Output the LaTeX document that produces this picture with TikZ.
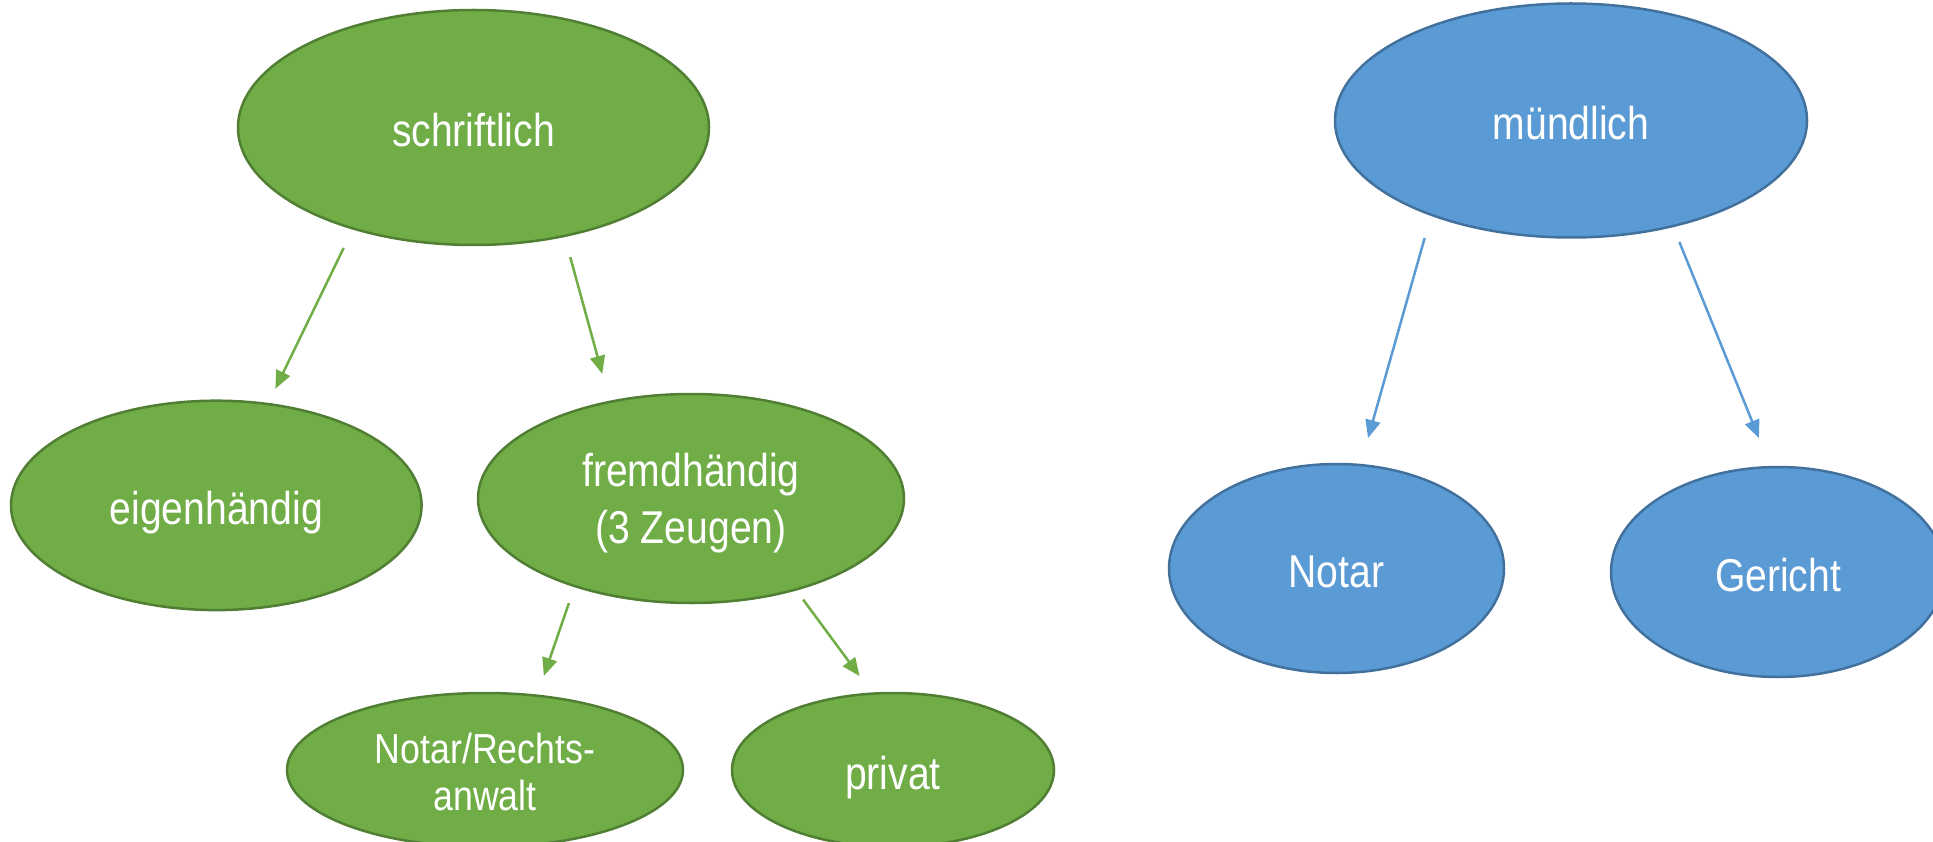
\documentclass[tikz,border=0pt]{standalone}
\usepackage{fontspec}
\newfontfamily\labelfont[FakeStretch=0.85]{Liberation Sans}
\usetikzlibrary{shapes.geometric,arrows.meta}
\definecolor{grfill}{HTML}{70AD47}
\definecolor{grline}{HTML}{507E32}
\definecolor{blfill}{HTML}{5B9BD5}
\definecolor{blline}{HTML}{41719C}
\begin{document}
\begin{tikzpicture}[x=1pt,y=-1pt,
  oval/.style={ellipse, inner sep=0pt, outer sep=0pt, line width=2.5pt, text=white,
    font=\labelfont\fontsize{46}{54}\selectfont},
  oneline/.style={text height=38pt, text depth=0pt},
  greenoval/.style={oval, fill=grfill, draw=grline},
  blueoval/.style={oval, fill=blfill, draw=blline},
  link/.style={line width=2.5pt, -{Triangle[length=18pt,width=15pt]}},
  greenlink/.style={link, draw=grfill},
  bluelink/.style={link, draw=blfill},
]
\useasboundingbox (0,0) rectangle (1933,842);
\clip (0,0) rectangle (1933,842);

% written forms
\node[greenoval, oneline, minimum width=471pt, minimum height=235pt] (s) at (473.5,127.5) {schriftlich};
\node[greenoval, oneline, minimum width=410.6pt, minimum height=209.4pt] (e) at (216.3,505.4) {eigenhändig};
\node[greenoval, minimum width=426pt, minimum height=209pt, align=center,
      font=\labelfont\fontsize{46}{56.6}\selectfont, text height=89.6pt, text depth=0pt]
      (f) at (691,498.5) {fremdhändig\\(3 Zeugen)};
\node[greenoval, minimum width=396pt, minimum height=154pt, align=center,
      font=\labelfont\fontsize{42}{47.4}\selectfont, text height=81.4pt, text depth=0pt]
      (nr) at (485,770) {Notar/Rechts-\\anwalt};
\node[greenoval, oneline, minimum width=322pt, minimum height=154pt] (p) at (893,770) {privat};

% oral forms
\node[blueoval, oneline, minimum width=472pt, minimum height=234pt] (m) at (1571,120.5) {mündlich};
\node[blueoval, oneline, minimum width=335pt, minimum height=209pt] (n) at (1336.5,568.5) {Notar};
\node[blueoval, oneline, minimum width=334pt, minimum height=210pt] (g) at (1778,572) {Gericht};

% connectors
\draw[greenlink, shorten <=21.6pt, shorten >=17pt] (s.220.1) -- (e.63.1);
\draw[greenlink, shorten <=22pt, shorten >=29pt] (s.310.4) -- (f.130.7);
\draw[greenlink, shorten <=18pt, shorten >=21pt] (f.217.6) -- (nr.55.1);
\draw[greenlink, shorten <=12.5pt, shorten >=21.8pt] (f.319.2) -- (p.105.9);
\draw[bluelink, shorten <=24.2pt, shorten >=28.1pt] (m.214) -- (n.77.3);
\draw[bluelink, shorten <=17.2pt, shorten >=31.3pt] (m.314.8) -- (g.94.7);
\end{tikzpicture}
\end{document}
